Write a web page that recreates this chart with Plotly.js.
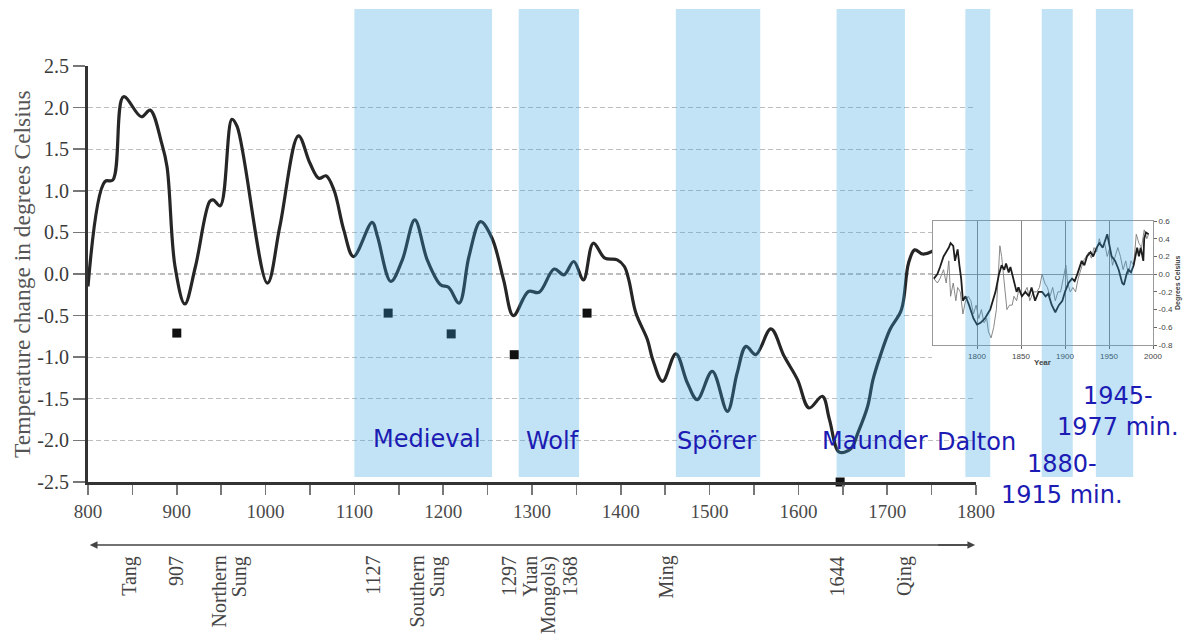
<!DOCTYPE html>
<html>
<head>
<meta charset="utf-8">
<script src="https://cdn.plot.ly/plotly-3.0.1.min.js"></script>
<style>html,body{margin:0;padding:0;background:#fff;}#chart{width:1188px;height:636px;}</style>
</head>
<body>
<div id="chart"></div>
<script>
// ---------------- DATA ----------------
// Main reconstruction: year and temperature change (deg C)
const mainYears = [800, 819, 828, 840, 860, 870, 883, 889, 898, 909, 921, 937, 941, 949, 962, 968, 1002, 1016, 1037, 1050, 1060, 1068, 1077, 1088, 1099, 1120, 1126, 1141, 1154, 1168, 1182, 1197, 1206, 1218, 1229, 1242, 1255, 1268, 1279, 1296, 1308, 1325, 1336, 1347, 1358, 1369, 1382, 1396, 1404, 1409, 1417, 1430, 1436, 1447, 1462, 1475, 1486, 1503, 1520, 1531, 1541, 1552, 1569, 1584, 1599, 1612, 1627, 1635, 1646, 1659, 1667, 1678, 1684, 1692, 1703, 1716, 1724, 1731, 1740, 1752];
const mainTemps = [-0.15, 1.11, 1.13, 2.13, 1.89, 1.97, 1.57, 1.29, 0.09, -0.36, 0.09, 0.87, 0.89, 0.82, 1.86, 1.77, -0.11, 0.57, 1.66, 1.33, 1.15, 1.18, 1.01, 0.53, 0.21, 0.62, 0.45, -0.09, 0.17, 0.65, 0.17, -0.13, -0.16, -0.35, 0.21, 0.63, 0.43, -0.07, -0.50, -0.21, -0.22, 0.06, -0.01, 0.15, -0.07, 0.37, 0.19, 0.17, 0.09, -0.07, -0.47, -0.79, -1.03, -1.29, -0.96, -1.31, -1.51, -1.17, -1.65, -1.19, -0.87, -0.97, -0.66, -0.99, -1.27, -1.61, -1.47, -1.75, -2.14, -2.10, -1.91, -1.59, -1.27, -0.99, -0.67, -0.43, 0.13, 0.29, 0.24, 0.28];

// Square markers
const markerYears = [900, 1138, 1209, 1280, 1362, 1647];
const markerTemps = [-0.71, -0.47, -0.72, -0.97, -0.47, -2.5];

// Solar minimum bands (start / end year on the main time scale) and labels
const bandStart = [1100, 1285, 1462, 1643, 1788, 1874, 1935];
const bandEnd   = [1255, 1353, 1557, 1720, 1816, 1909, 1977];
const bandLabels = ['Medieval', 'Wolf', 'Spörer', 'Maunder', 'Dalton', '1880-<br>1915 min.', '1945-<br>1977 min.'];

// Axis ticks
const xTickVals = [800,850,900,950,1000,1050,1100,1150,1200,1250,1300,1350,1400,1450,1500,1550,1600,1650,1700,1750,1800];
const xTickText = ['800','','900','','1000','','1100','','1200','','1300','','1400','','1500','','1600','','1700','','1800'];
const yTickVals = [-2.5,-2.0,-1.5,-1.0,-0.5,0,0.5,1.0,1.5,2.0,2.5];
const yTickText = ['-2.5','-2.0','-1.5','-1.0','-0.5','0.0','0.5','1.0','1.5','2.0','2.5'];

// Dynasty timeline labels (year position on main axis)
const dynastyText  = ['Tang','907','Northern','Sung','1127','Southern','Sung','1297','Yuan','Mongols)','1368','Ming','1644','Qing'];
const dynastyYears = [846, 899, 947, 971, 1120, 1170, 1194, 1274, 1297, 1318, 1343, 1451, 1644, 1719];

// Inset (instrumental record 1750-2000)
const insetYears = [1751,1755,1758,1762,1765,1768,1770,1773,1775,1778,1780,1782,1784,1787,1791,1796,1800,1804,1809,1815,1821,1825,1828,1831,1833,1836,1838,1841,1845,1847,1851,1855,1859,1862,1866,1870,1874,1878,1881,1885,1889,1893,1897,1900,1904,1908,1911,1914,1917,1919,1922,1925,1929,1932,1936,1939,1943,1946,1948,1950,1953,1957,1961,1965,1967,1970,1972,1975,1978,1982,1984,1986,1989,1990,1992,1995];
const insetThick = [-0.05,0.0,0.08,0.2,0.25,0.3,0.35,0.32,0.15,0.28,0.1,-0.05,-0.3,-0.25,-0.35,-0.5,-0.57,-0.55,-0.5,-0.4,-0.2,0.0,0.1,0.05,0.12,0.02,0.08,-0.05,-0.2,-0.15,-0.25,-0.2,-0.25,-0.15,-0.3,-0.2,-0.2,-0.25,-0.22,-0.35,-0.43,-0.35,-0.3,-0.2,-0.1,-0.05,-0.08,0.0,0.1,0.15,0.1,0.2,0.25,0.2,0.3,0.35,0.3,0.4,0.45,0.35,0.2,0.15,0.05,-0.1,-0.12,0.0,0.05,0.02,0.1,0.3,0.2,0.3,0.15,0.4,0.47,0.45];
const insetThinYears = [1751,1755,1758,1762,1765,1768,1770,1773,1776,1778,1781,1784,1787,1790,1793,1796,1799,1802,1805,1808,1811,1813,1816,1819,1822,1824,1826,1828,1830,1832,1834,1837,1840,1842,1845,1848,1851,1854,1857,1860,1864,1868,1871,1874,1877,1880,1883,1886,1889,1892,1895,1898,1901,1903,1906,1909,1912,1915,1918,1921,1924,1927,1930,1933,1936,1939,1942,1945,1948,1951,1954,1957,1960,1963,1966,1969,1972,1975,1978,1981,1984,1987,1990,1993,1995];
const insetThin = [-0.05,-0.1,-0.05,0.05,-0.1,0.15,-0.25,-0.1,-0.3,-0.15,-0.2,-0.45,-0.3,-0.25,-0.3,-0.45,-0.35,-0.5,-0.4,-0.55,-0.5,-0.65,-0.72,-0.6,-0.4,-0.1,0.32,0.2,0.0,-0.2,-0.4,-0.35,-0.35,-0.25,-0.3,-0.15,-0.25,-0.2,-0.15,-0.3,-0.2,-0.2,-0.15,0.0,-0.1,-0.15,-0.25,-0.15,-0.3,-0.2,-0.2,-0.05,0.1,-0.1,-0.2,-0.15,-0.2,-0.05,0.05,0.15,0.2,0.25,0.18,0.3,0.25,0.4,0.3,0.35,0.2,0.3,0.1,0.2,0.3,0.2,0.05,0.15,0.0,0.15,0.1,0.45,0.35,0.3,0.5,0.4,0.45];
const insetXTicks = [1800,1850,1900,1950,2000];
const insetYTickVals = [-0.8,-0.6,-0.4,-0.2,0,0.2,0.4,0.6];
const insetYTickText = ['-0.8','-0.6','-0.4','-0.2','0.0','0.2','0.4','0.6'];

// ---------------- LAYOUT HELPERS ----------------
const W = 1188, H = 636;
const pxX = v => v / W;
const pxY = v => (H - v) / H;
const mainDomX = [pxX(88), pxX(976)];
const mainDomY = [pxY(482), pxY(66)];
const yearToPaper = yr => mainDomX[0] + (yr - 800) / 1000 * (mainDomX[1] - mainDomX[0]);

const serif = 'Liberation Serif, Times New Roman, serif';
const sans = 'DejaVu Sans, Verdana, sans-serif';

// ---------------- TRACES ----------------
const traces = [
  {type:'scatter', mode:'lines', x: mainYears, y: mainTemps, xaxis:'x', yaxis:'y',
   line:{color:'#262626', width:3.2, shape:'spline', smoothing:1}, hoverinfo:'x+y'},
  {type:'scatter', mode:'markers', x: markerYears, y: markerTemps, xaxis:'x', yaxis:'y',
   marker:{symbol:'square', size:9, color:'#111'}, cliponaxis:false},
  // inset backdrop subplot
  {type:'scatter', mode:'lines', x:[], y:[], xaxis:'x2', yaxis:'y2', hoverinfo:'skip'},
  // inset lines
  {type:'scatter', mode:'lines', x: insetThinYears, y: insetThin, xaxis:'x3', yaxis:'y3',
   line:{color:'#7a7a7a', width:0.9}},
  {type:'scatter', mode:'lines', x: insetYears, y: insetThick, xaxis:'x3', yaxis:'y3',
   line:{color:'#1e1e1e', width:1.8}}
];

// ---------------- SHAPES (bands) ----------------
const shapes = bandStart.map((s, i) => ({
  type:'rect', xref:'paper', yref:'paper',
  x0: yearToPaper(s), x1: yearToPaper(bandEnd[i]),
  y0: pxY(477), y1: pxY(9),
  fillcolor:'rgba(52,162,222,0.3)', line:{width:0}, layer:'above'
}));

// ---------------- ANNOTATIONS ----------------
const annotations = [];
// band labels (pixel centres)
const bandLabelPos = [[427,439],[552,441],[716,441],[875,441],[976,442],[1062,479],[1118,411]];
bandLabels.forEach((t, i) => {
  annotations.push({text:t, xref:'paper', yref:'paper', x:pxX(bandLabelPos[i][0]), y:pxY(bandLabelPos[i][1]),
    xanchor:'center', yanchor:'middle', showarrow:false, align:'center',
    font:{family:sans, size:24, color:'#1c1cb4'}});
});
// dynasty labels
dynastyText.forEach((t, i) => {
  annotations.push({text:t, xref:'x', yref:'paper', x:dynastyYears[i], y:pxY(554),
    xanchor:'center', yanchor:'top', textangle:-90, showarrow:false,
    font:{family:serif, size:20, color:'#444'}});
});
// timeline arrow (double headed)
annotations.push({text:' ', xref:'x', yref:'paper', x:802, y:pxY(545), ax:885, ay:0,
  showarrow:true, arrowhead:2, arrowsize:1.1, arrowwidth:1.4, arrowcolor:'#444'});
annotations.push({text:' ', xref:'x', yref:'paper', x:1799, y:pxY(545), ax:-40, ay:0,
  showarrow:true, arrowhead:2, arrowsize:1.1, arrowwidth:1.4, arrowcolor:'#444'});
// main y title
annotations.push({text:'Temperature change in degrees Celsius', xref:'paper', yref:'paper',
  x:pxX(22), y:pxY(274), textangle:-90, showarrow:false, xanchor:'center', yanchor:'middle',
  font:{family:serif, size:23.5, color:'#555'}});
// inset titles
annotations.push({text:'<b>Year</b>', xref:'paper', yref:'paper', x:pxX(1042), y:pxY(362),
  showarrow:false, xanchor:'center', yanchor:'middle', font:{family:'Liberation Sans, Arial, sans-serif', size:8, color:'#444'}});
annotations.push({text:'<b>Degrees Celsius</b>', xref:'paper', yref:'paper', x:pxX(1178), y:pxY(283),
  textangle:-90, showarrow:false, xanchor:'center', yanchor:'middle', font:{family:'Liberation Sans, Arial, sans-serif', size:7, color:'#444'}});

const layout = {
  width: W, height: H,
  margin:{l:0, r:0, t:0, b:0, pad:0},
  paper_bgcolor:'#ffffff', plot_bgcolor:'#ffffff',
  showlegend:false,
  xaxis:{domain:mainDomX, range:[800,1800], anchor:'y',
    tickmode:'array', tickvals:xTickVals, ticktext:xTickText,
    ticks:'outside', ticklen:10, tickwidth:1.5, tickcolor:'#777',
    showline:true, linewidth:3, linecolor:'#333', showgrid:false, zeroline:false,
    tickfont:{family:serif, size:19, color:'#4a4a4a'}, fixedrange:true},
  yaxis:{domain:mainDomY, range:[-2.5,2.5], anchor:'x',
    tickmode:'array', tickvals:yTickVals, ticktext:yTickText,
    ticks:'outside', ticklen:12, tickwidth:1.5, tickcolor:'#777',
    showline:true, linewidth:3, linecolor:'#333',
    showgrid:true, gridcolor:'#bdbdbd', gridwidth:1.2, griddash:'5px,3px', zeroline:false,
    tickfont:{family:serif, size:20, color:'#3a3a3a'}, fixedrange:true},
  xaxis2:{domain:[pxX(932), pxX(1183)], range:[0,1], anchor:'y2', visible:false, fixedrange:true},
  yaxis2:{domain:[pxY(367), pxY(215)], range:[0,1], anchor:'x2', visible:false, fixedrange:true},
  xaxis3:{domain:[pxX(933), pxX(1153)], range:[1750,2000], anchor:'y3',
    tickmode:'array', tickvals:insetXTicks, ticks:'outside', ticklen:3, tickcolor:'#666',
    showline:true, mirror:true, linecolor:'#9a9a9a', linewidth:1,
    showgrid:true, gridcolor:'#666', gridwidth:0.8, zeroline:false,
    tickfont:{family:'Liberation Sans, Arial, sans-serif', size:8, color:'#444'}, fixedrange:true},
  yaxis3:{domain:[pxY(345), pxY(221)], range:[-0.8,0.6], anchor:'x3', side:'right',
    tickmode:'array', tickvals:insetYTickVals, ticktext:insetYTickText,
    ticks:'outside', ticklen:3, tickcolor:'#666',
    showline:true, mirror:true, linecolor:'#9a9a9a', linewidth:1,
    showgrid:false, zeroline:true, zerolinecolor:'#777', zerolinewidth:0.8,
    tickfont:{family:'Liberation Sans, Arial, sans-serif', size:8, color:'#444'}, fixedrange:true},
  shapes: shapes,
  annotations: annotations
};

Plotly.newPlot('chart', traces, layout, {staticPlot:true, displayModeBar:false});
</script>
</body>
</html>
